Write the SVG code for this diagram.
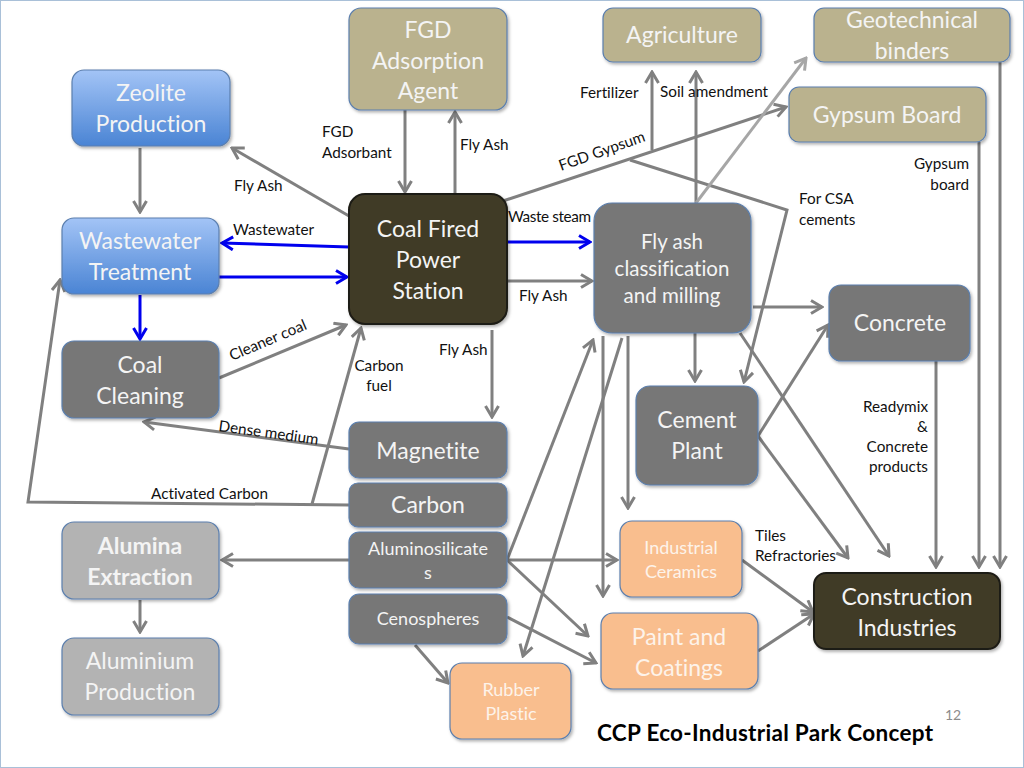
<svg xmlns="http://www.w3.org/2000/svg" width="1024" height="768" viewBox="0 0 1024 768">
<defs>
<style>
.n rect{stroke:#5b7fae;stroke-width:1.2;filter:url(#sh)}
.tan rect{fill:#bab28e}
.gry rect{fill:#777777}
.lgr rect{fill:#b3b3b3}
.pch rect{fill:#f9be8e}
.drk rect{fill:#403b28;stroke:#1e1c14;stroke-width:2}
.blu rect{fill:url(#bg)}
.n text{font-family:Lato,"Liberation Sans",sans-serif;fill:#f4f4f4;text-anchor:middle;font-size:23px;font-variant-ligatures:none}
.n text.s{font-size:18px}
.n text.m{font-size:20.5px}
.n text.b{font-weight:bold}
.pch text{fill:#fdf3ea}
#conn path{fill:none;stroke:#808080;stroke-width:3;marker-end:url(#ag)}
#conn path.bl{stroke:#0000ee;marker-end:url(#ab)}
#conn path.lt{stroke:#a6a6a6;marker-end:url(#al)}
.lb{font-family:Lato,"Liberation Sans",sans-serif;font-size:15.3px;fill:#111;font-variant-ligatures:none}
.r{text-anchor:end}
.c{text-anchor:middle}
</style>
<linearGradient id="bg" x1="0" y1="0" x2="0" y2="1">
<stop offset="0" stop-color="#a3c4f6"/>
<stop offset="1" stop-color="#4a84d4"/>
</linearGradient>
<filter id="sh" x="-10%" y="-10%" width="130%" height="130%">
<feDropShadow dx="1.5" dy="2" stdDeviation="1.5" flood-color="#000" flood-opacity="0.3"/>
</filter>
<marker id="ag" markerUnits="userSpaceOnUse" viewBox="0 0 16 16" markerWidth="16" markerHeight="16" refX="14" refY="8" orient="auto">
<path d="M3,1.5 L14,8 L3,14.5" fill="none" stroke="#808080" stroke-width="3"/>
</marker>
<marker id="ab" markerUnits="userSpaceOnUse" viewBox="0 0 16 16" markerWidth="16" markerHeight="16" refX="14" refY="8" orient="auto">
<path d="M3,1.5 L14,8 L3,14.5" fill="none" stroke="#0000ee" stroke-width="3"/>
</marker>
<marker id="al" markerUnits="userSpaceOnUse" viewBox="0 0 16 16" markerWidth="16" markerHeight="16" refX="14" refY="8" orient="auto">
<path d="M3,1.5 L14,8 L3,14.5" fill="none" stroke="#a6a6a6" stroke-width="3"/>
</marker>
</defs>
<rect x="0" y="0" width="1024" height="768" fill="#ffffff"/>
<rect x="0.5" y="0.5" width="1023" height="767" fill="none" stroke="#a9c0d8" stroke-width="1"/>

<g id="conn">
<path d="M405,110 L405,192"/>
<path d="M455,194 L455,112"/>
<path d="M349,216 L232,148"/>
<path d="M140,148 L140,212"/>
<path class="bl" d="M349,247 L222,243"/>
<path class="bl" d="M219,277 L347,277"/>
<path class="bl" d="M140,295 L140,339"/>
<path d="M219,378 L346,325"/>
<path d="M349,449 L144,422"/>
<path d="M349,505 L28,502 L60,280"/>
<path d="M312,504 L361,328"/>
<path d="M492,330 L492,417"/>
<path class="bl" d="M507,242 L590,242"/>
<path d="M507,281 L592,281"/>
<path d="M500,202 L786,107"/>
<path d="M630,160 L787,210 L744,382"/>
<path d="M652,150 L652,72"/>
<path d="M696,203 L696,72"/>
<path class="lt" d="M696,203 L806,58"/>
<path d="M1000,62 L1000,567"/>
<path d="M979,142 L979,567"/>
<path d="M936,361 L936,567"/>
<path d="M753,307 L822,307"/>
<path d="M695,333 L695,381"/>
<path d="M758,436 L828,325"/>
<path d="M758,436 L848,558"/>
<path d="M740,333 L889,556"/>
<path d="M742,560 L813,612"/>
<path d="M758,651 L814,614"/>
<path d="M628,336 L628,508"/>
<path d="M603,336 L603,596"/>
<path d="M507,560 L593,340"/>
<path d="M622,338 L523,656"/>
<path d="M507,560 L617,560"/>
<path d="M507,560 L588,636"/>
<path d="M507,617 L596,663"/>
<path d="M415,645 L448,683"/>
<path d="M349,560 L222,560"/>
<path d="M140,600 L140,632"/>
</g>

<g id="labels">
<text class="lb" x="322" y="137">FGD</text>
<text class="lb" x="322" y="158">Adsorbant</text>
<text class="lb" x="460" y="150">Fly Ash</text>
<text class="lb" x="234" y="191">Fly Ash</text>
<text class="lb" x="233" y="235">Wastewater</text>
<text class="lb" x="508" y="222" textLength="83">Waste steam</text>
<text class="lb" x="519" y="301">Fly Ash</text>
<text class="lb" x="580" y="98">Fertilizer</text>
<text class="lb" x="660" y="97">Soil amendment</text>
<text class="lb" x="561" y="171" transform="rotate(-19.5 561 171)">FGD Gypsum</text>
<text class="lb" x="799" y="204">For CSA</text>
<text class="lb" x="799" y="225">cements</text>
<text class="lb r" x="969" y="169">Gypsum</text>
<text class="lb r" x="969" y="190">board</text>
<text class="lb" x="232" y="361" transform="rotate(-23 232 361)">Cleaner coal</text>
<text class="lb" x="218" y="431" transform="rotate(7.8 218 431)">Dense medium</text>
<text class="lb c" x="379" y="371">Carbon</text>
<text class="lb c" x="379" y="391">fuel</text>
<text class="lb" x="439" y="355">Fly Ash</text>
<text class="lb" x="151" y="499">Activated Carbon</text>
<text class="lb r" x="928" y="412">Readymix</text>
<text class="lb r" x="928" y="432">&amp;</text>
<text class="lb r" x="928" y="452">Concrete</text>
<text class="lb r" x="928" y="472">products</text>
<text class="lb" x="755" y="541">Tiles</text>
<text class="lb" x="755" y="561">Refractories</text>
<text x="597" y="741" textLength="336" style="font-family:Lato,'Liberation Sans',sans-serif;font-weight:bold;font-size:22.5px;fill:#000">CCP Eco-Industrial Park Concept</text>
<text x="945" y="720" style="font-family:Lato,'Liberation Sans',sans-serif;font-size:14px;fill:#8c8c8c">12</text>
</g>

<g id="fgd" class="n tan"><rect x="349" y="8" width="158" height="102" rx="12"/>
<text x="428" y="38">FGD</text><text x="428" y="69">Adsorption</text><text x="428" y="99">Agent</text></g>
<g id="agriculture" class="n tan"><rect x="603" y="8" width="158" height="54" rx="10"/>
<text x="682" y="43">Agriculture</text></g>
<g id="geotech" class="n tan"><rect x="814" y="8" width="196" height="54" rx="10"/>
<text x="912" y="28">Geotechnical</text><text x="912" y="59">binders</text></g>
<g id="gypsum" class="n tan"><rect x="789" y="87" width="197" height="55" rx="10"/>
<text x="887" y="123">Gypsum Board</text></g>
<g id="zeolite" class="n blu"><rect x="72" y="70" width="158" height="76" rx="12"/>
<text x="151" y="101">Zeolite</text><text x="151" y="132">Production</text></g>
<g id="wastewater" class="n blu"><rect x="62" y="218" width="157" height="76" rx="12"/>
<text x="140" y="249">Wastewater</text><text x="140" y="280">Treatment</text></g>
<g id="coalfired" class="n drk"><rect x="349" y="194" width="158" height="130" rx="16"/>
<text x="428" y="237">Coal Fired</text><text x="428" y="268">Power</text><text x="428" y="299">Station</text></g>
<g id="flyash" class="n gry"><rect x="594" y="203" width="157" height="130" rx="18"/>
<text class="m" x="672" y="249">Fly ash</text><text class="m" x="672" y="276">classification</text><text class="m" x="672" y="303">and milling</text></g>
<g id="concrete" class="n gry"><rect x="829" y="285" width="141" height="76" rx="12"/>
<text x="900" y="331">Concrete</text></g>
<g id="coalcleaning" class="n gry"><rect x="62" y="341" width="157" height="77" rx="12"/>
<text x="140" y="373">Coal</text><text x="140" y="404">Cleaning</text></g>
<g id="magnetite" class="n gry"><rect x="349" y="422" width="158" height="56" rx="10"/>
<text x="428" y="459">Magnetite</text></g>
<g id="carbon" class="n gry"><rect x="349" y="483" width="158" height="44" rx="9"/>
<text x="428" y="513">Carbon</text></g>
<g id="aluminosilicates" class="n gry"><rect x="349" y="532" width="158" height="56" rx="10"/>
<text class="s" x="428" y="555">Aluminosilicate</text><text class="s" x="428" y="579">s</text></g>
<g id="cenospheres" class="n gry"><rect x="349" y="594" width="158" height="50" rx="10"/>
<text class="s" x="428" y="625">Cenospheres</text></g>
<g id="cement" class="n gry"><rect x="636" y="386" width="122" height="99" rx="14"/>
<text x="697" y="428">Cement</text><text x="697" y="459">Plant</text></g>
<g id="alumina" class="n lgr"><rect x="62" y="522" width="157" height="77" rx="12"/>
<text class="b" x="140" y="554">Alumina</text><text class="b" x="140" y="585">Extraction</text></g>
<g id="aluminium" class="n lgr"><rect x="62" y="638" width="157" height="77" rx="12"/>
<text x="140" y="669">Aluminium</text><text x="140" y="700">Production</text></g>
<g id="ceramics" class="n pch"><rect x="620" y="521" width="122" height="76" rx="12"/>
<text class="s" x="681" y="554">Industrial</text><text class="s" x="681" y="578">Ceramics</text></g>
<g id="paint" class="n pch"><rect x="601" y="613" width="157" height="76" rx="12"/>
<text x="679" y="645">Paint and</text><text x="679" y="676">Coatings</text></g>
<g id="rubber" class="n pch"><rect x="450" y="663" width="121" height="76" rx="12"/>
<text class="s" x="511" y="696">Rubber</text><text class="s" x="511" y="720">Plastic</text></g>
<g id="construction" class="n drk"><rect x="814" y="573" width="186" height="76" rx="12"/>
<text x="907" y="605">Construction</text><text x="907" y="636">Industries</text></g>
</svg>
